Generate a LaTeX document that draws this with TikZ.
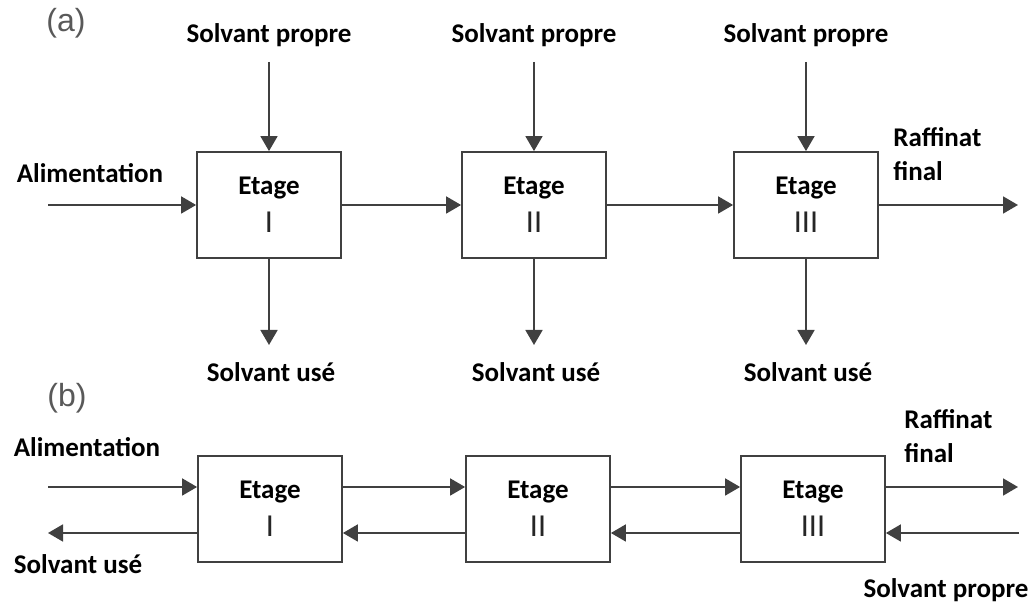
\documentclass[tikz,border=0pt]{standalone}
\usepackage{fontspec}
\setmainfont{Carlito}
\newfontfamily\panelfont{Liberation Sans}
\usepackage{tikz}
\usetikzlibrary{calc, positioning, arrows.meta}
\tikzset{
  etage/.style={draw=black!75, line width=0.9pt, minimum width=72pt, minimum height=53pt,
    inner sep=0pt, align=center, font=\fontsize{13.5}{19}\selectfont},
  flux/.style={draw=black!75, line width=0.9pt, -{Triangle[length=7.5pt,width=8.5pt]}},
  txt/.style={inner sep=0pt, font=\bfseries\fontsize{13.5}{17}\selectfont},
  panel/.style={inner sep=0pt, text=black!65, font=\panelfont\fontsize{16}{18}\selectfont}
}
\newcommand{\numetage}[1]{{\fontsize{16}{19}\selectfont\textcolor{black!85}{#1}}}

\begin{document}
\begin{tikzpicture}[x=0.5pt, y=-0.5pt]
		\useasboundingbox (0,0) rectangle (1035,603);

		% (a) etages en serie, solvant propre a chaque etage
		\node[panel] (pa) at (66,23) {(a)};

		\foreach \n / \x / \r in {1/269/I, 2/534/II, 3/806/III} {
		\node[etage] (a\n) at (\x,205) {\textbf{Etage}\\ \numetage{\r}};
		\node[txt] (spa\n) at (\x,35) {Solvant propre};
		\node[txt] (sua\n) at (\x+2,372) {Solvant usé};
		\coordinate (ina\n) at (\x,62);
		\coordinate (outa\n) at (\x,345);
		\draw[flux] (ina\n) -- (a\n);
		\draw[flux] (a\n) -- (outa\n);
		}

		\node[txt] (alima) at (90,173) {Alimentation};
		\node[txt, anchor=west, align=left] (rafa) at (893,154) {Raffinat\\ final};
		\coordinate (alim0) at (48,205);
		\coordinate (raf0) at (1018,205);

		\draw[flux] (alim0) -- (a1);
		\draw[flux] (a1) -- (a2);
		\draw[flux] (a2) -- (a3);
		\draw[flux] (a3) -- (raf0);

		% (b) etages a contre-courant
		\node[panel] (pb) at (67,398) {(b)};

		\foreach \n / \x / \r in {1/270/I, 2/538/II, 3/813/III}
		\node[etage] (b\n) at (\x,509) {\textbf{Etage}\\ \numetage{\r}};

		\node[txt] (alimb) at (87,447) {Alimentation};
		\node[txt] (sub) at (78,564) {Solvant usé};
		\node[txt, anchor=west, align=left] (rafb) at (904,436) {Raffinat\\ final};
		\node[txt] (spb) at (946,590) {Solvant propre};
		\coordinate (alim1) at (48,487);
		\coordinate (su1) at (48,533);
		\coordinate (raf1) at (1018,487);
		\coordinate (sp1) at (1019,533);

		\draw[flux] (alim1) -- ([yshift=11pt]b1.west);
		\draw[flux] ([yshift=11pt]b1.east) -- ([yshift=11pt]b2.west);
		\draw[flux] ([yshift=11pt]b2.east) -- ([yshift=11pt]b3.west);
		\draw[flux] ([yshift=11pt]b3.east) -- (raf1);

		\draw[flux] (sp1) -- ([yshift=-12pt]b3.east);
		\draw[flux] ([yshift=-12pt]b3.west) -- ([yshift=-12pt]b2.east);
		\draw[flux] ([yshift=-12pt]b2.west) -- ([yshift=-12pt]b1.east);
		\draw[flux] ([yshift=-12pt]b1.west) -- (su1);
	\end{tikzpicture}
\end{document}
